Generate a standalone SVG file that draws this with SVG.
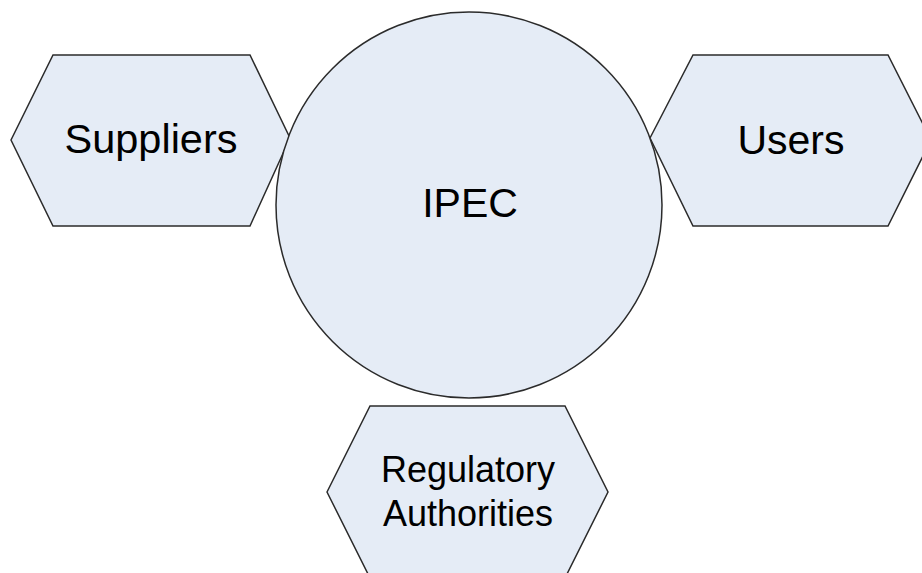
<svg xmlns="http://www.w3.org/2000/svg" width="922" height="573" viewBox="0 0 922 573">
<style>
.shape{fill:#E5ECF6;stroke:#2b2b2b;stroke-width:1.5;}
.lbl{font-family:"Liberation Sans",Arial,sans-serif;fill:#000;text-anchor:middle;}
</style>
<rect width="922" height="573" fill="#fff"/>
<g id="connectors"></g>
<g id="suppliers">
<polygon class="shape" points="11,140 53,55 250,55 290,138 250,226 53,226"/>
<text class="lbl" x="151" y="153" font-size="41.5">Suppliers</text>
</g>
<g id="users">
<polygon class="shape" points="650,138 693,55 888,55 931,140 888,226 693,226"/>
<text class="lbl" x="791" y="154" font-size="41">Users</text>
</g>
<g id="regulatory">
<polygon class="shape" points="327,492 370,406 565,406 608,492 565,578 370,578"/>
<text class="lbl" x="468" y="482" font-size="36">Regulatory</text>
<text class="lbl" x="468" y="526" font-size="36">Authorities</text>
</g>
<g id="ipec">
<circle class="shape" cx="469" cy="205" r="193"/>
<text class="lbl" x="470" y="217" font-size="41">IPEC</text>
</g>
</svg>
